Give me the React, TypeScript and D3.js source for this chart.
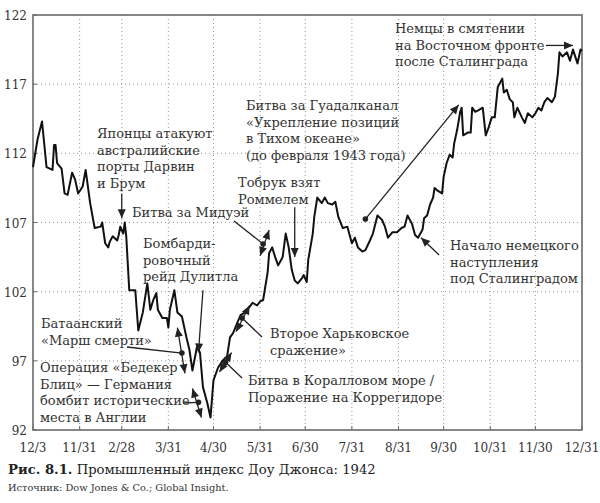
import * as d3 from "d3";
import React from "react";

// Dow Jones Industrial index, 1942
const dates = [
  "1941-12-31", "1942-01-03", "1942-01-06", "1942-01-09", "1942-01-13", "1942-01-14", "1942-01-15", "1942-01-16",
  "1942-01-19", "1942-01-21", "1942-01-23", "1942-01-26", "1942-01-28", "1942-01-30", "1942-02-02", "1942-02-04",
  "1942-02-07", "1942-02-09", "1942-02-10", "1942-02-14", "1942-02-15", "1942-02-17", "1942-02-19", "1942-02-20",
  "1942-02-22", "1942-02-25", "1942-02-26", "1942-02-27", "1942-03-01", "1942-03-02", "1942-03-03", "1942-03-05",
  "1942-03-09", "1942-03-11", "1942-03-14", "1942-03-17", "1942-03-19", "1942-03-21", "1942-03-23", "1942-03-24",
  "1942-03-27", "1942-03-30", "1942-03-31", "1942-04-01", "1942-04-04", "1942-04-06", "1942-04-09", "1942-04-12",
  "1942-04-14", "1942-04-16", "1942-04-19", "1942-04-21", "1942-04-23", "1942-04-26", "1942-04-28", "1942-04-30",
  "1942-05-03", "1942-05-06", "1942-05-09", "1942-05-11", "1942-05-13", "1942-05-16", "1942-05-18", "1942-05-21",
  "1942-05-24", "1942-05-26", "1942-05-29", "1942-05-31", "1942-06-02", "1942-06-05", "1942-06-06", "1942-06-08",
  "1942-06-10", "1942-06-12", "1942-06-15", "1942-06-17", "1942-06-19", "1942-06-21", "1942-06-23", "1942-06-25",
  "1942-06-28", "1942-06-29", "1942-07-01", "1942-07-02", "1942-07-05", "1942-07-06", "1942-07-08", "1942-07-11",
  "1942-07-13", "1942-07-15", "1942-07-18", "1942-07-20", "1942-07-22", "1942-07-25", "1942-07-28", "1942-07-31",
  "1942-08-02", "1942-08-04", "1942-08-07", "1942-08-09", "1942-08-12", "1942-08-14", "1942-08-17", "1942-08-20",
  "1942-08-22", "1942-08-24", "1942-08-27", "1942-08-30", "1942-09-02", "1942-09-04", "1942-09-06", "1942-09-09",
  "1942-09-11", "1942-09-13", "1942-09-16", "1942-09-17", "1942-09-19", "1942-09-21", "1942-09-23", "1942-09-24",
  "1942-09-26", "1942-09-29", "1942-09-30", "1942-10-02", "1942-10-04", "1942-10-06", "1942-10-07", "1942-10-09",
  "1942-10-11", "1942-10-12", "1942-10-13", "1942-10-16", "1942-10-18", "1942-10-19", "1942-10-21", "1942-10-23",
  "1942-10-26", "1942-10-28", "1942-10-30", "1942-11-01", "1942-11-03", "1942-11-05", "1942-11-08", "1942-11-09",
  "1942-11-11", "1942-11-13", "1942-11-15", "1942-11-16", "1942-11-18", "1942-11-21", "1942-11-23", "1942-11-25",
  "1942-11-28", "1942-11-30", "1942-12-02", "1942-12-04", "1942-12-06", "1942-12-08", "1942-12-11", "1942-12-13",
  "1942-12-15", "1942-12-16", "1942-12-18", "1942-12-21", "1942-12-23", "1942-12-25", "1942-12-28", "1942-12-30",
  "1942-12-31",
];

const values = [
  111.0, 113.0, 114.3, 111.0, 110.8, 112.6, 112.6, 111.3,
  110.9, 109.1, 109.0, 110.6, 110.1, 109.1, 109.6, 110.8,
  108.4, 107.2, 106.6, 106.7, 107.0, 105.5, 105.2, 105.6,
  106.0, 105.7, 106.1, 106.7, 106.2, 107.0, 106.0, 102.1,
  102.1, 99.2, 100.5, 102.6, 100.7, 101.4, 101.9, 100.7,
  100.1, 100.1, 99.4, 100.7, 102.1, 100.5, 100.2, 98.7,
  97.8, 96.3, 98.0, 97.6, 95.1, 93.9, 92.9, 95.6,
  96.5, 97.0, 97.3, 98.7, 99.0, 99.8, 100.3, 100.5,
  100.9, 101.2, 101.0, 101.3, 101.4, 103.4, 104.8, 105.2,
  104.5, 103.9, 104.5, 106.2, 105.2, 103.6, 102.8, 102.6,
  103.0, 103.2, 102.7, 104.3, 106.2, 107.4, 108.8, 108.4,
  108.8, 108.4, 108.3, 108.5, 107.4, 106.6, 106.7, 105.5,
  105.9, 105.2, 104.9, 105.0, 105.7, 106.2, 107.5, 107.2,
  106.7, 105.9, 106.3, 106.3, 106.6, 106.7, 107.5, 106.9,
  106.1, 105.9, 106.5, 107.3, 107.5, 108.3, 108.8, 109.5,
  109.3, 109.1, 110.3, 111.3, 111.9, 111.7, 112.7, 113.7,
  115.0, 115.3, 113.3, 113.5, 113.5, 115.3, 115.0, 115.1,
  115.3, 113.3, 113.9, 114.6, 114.6, 116.8, 117.4, 116.4,
  116.6, 115.9, 115.7, 114.6, 115.3, 114.6, 114.2, 114.9,
  114.6, 114.9, 115.3, 115.1, 115.7, 116.0, 115.7, 116.1,
  117.8, 119.3, 119.0, 119.3, 118.7, 119.5, 118.5, 119.5,
  119.4,
];

const tickDates = [
  "1941-12-31", "1942-01-31", "1942-02-28", "1942-03-31", "1942-04-30", "1942-05-31", "1942-06-30",
  "1942-07-31", "1942-08-31", "1942-09-30", "1942-10-31", "1942-11-30", "1942-12-31",
];
const tickLabels = ["12/3", "11/31", "2/28", "3/31", "4/30", "5/31", "6/30", "7/31", "8/31", "9/30", "10/31", "11/30", "12/31"];
const yTicks = [92, 97, 102, 107, 112, 117, 122];

const parse = d3.timeParse("%Y-%m-%d");

type Pt = [string, number];

// annotations: text lines at layout positions, arrows anchored to date/value
const notes = [
  { lines: ["Японцы атакуют", "австралийские", "порты Дарвин", "и Брум"], x: 97, y: 138 },
  { lines: ["Битва за Мидуэй"], x: 132, y: 217 },
  { lines: ["Бомбарди-", "ровочный", "рейд Дулитла"], x: 143, y: 248 },
  { lines: ["Батаанский", "«Марш смерти»"], x: 41, y: 328 },
  { lines: ["Операция «Бедекер", "Блиц» — Германия", "бомбит исторические", "места в Англии"], x: 40, y: 372 },
  { lines: ["Тобрук взят", "Роммелем"], x: 238, y: 187 },
  { lines: ["Второе Харьковское", "сражение»"], x: 270, y: 338 },
  { lines: ["Битва в Коралловом море /", "Поражение на Коррегидоре"], x: 248, y: 385 },
  { lines: ["Битва за Гуадалканал", "«Укрепление позиций", "в Тихом океане»", "(до февраля 1943 года)"], x: 246, y: 110 },
  { lines: ["Начало немецкого", "наступления", "под Сталинградом"], x: 450, y: 250 },
  { lines: ["Немцы в смятении", "на Восточном фронте", "после Сталинграда"], x: 395, y: 33 },
];

// single arrows: tail -> head
const singleArrows: { from: Pt; to: Pt }[] = [
  { from: ["1942-02-28", 109.1], to: ["1942-02-28", 107.3] },
  { from: ["1942-04-23", 102.1], to: ["1942-04-20", 97.6] },
  { from: ["1942-06-23", 108.1], to: ["1942-06-23", 104.5] },
  { from: ["1942-09-27", 104.65], to: ["1942-09-15", 105.9] },
  { from: ["1942-12-07", 119.8], to: ["1942-12-25", 119.8] },
];

// range markers: dot with arrowheads at both ends, leader from text (layout px)
const rangeArrows: { dot: Pt; a: Pt; b: Pt; leader: [number, number] }[] = [
  { dot: ["1942-06-02", 105.45], a: ["1942-06-06", 106.45], b: ["1942-05-31", 104.6], leader: [234, 221] },
  { dot: ["1942-04-09", 97.56], a: ["1942-04-06", 99.4], b: ["1942-04-11", 96.1], leader: [127, 347] },
  { dot: ["1942-04-20", 94.0], a: ["1942-04-16", 95.0], b: ["1942-04-22", 92.9], leader: [183, 403] },
  { dot: ["1942-05-08", 96.9], a: ["1942-05-12", 97.6], b: ["1942-05-04", 96.2], leader: [242, 378] },
  { dot: ["1942-05-19", 100.1], a: ["1942-05-24", 101.0], b: ["1942-05-15", 99.1], leader: [262, 337] },
];

// pointer with dot at tail
const dotArrows: { from: Pt; to: Pt }[] = [{ from: ["1942-08-09", 107.25], to: ["1942-10-10", 115.5] }];

const serif = "DejaVu Serif";

export default function App() {
  const ref = React.useRef<SVGSVGElement | null>(null);
  const width = 600;
  const height = 503;
  const margin = { top: 15, right: 18, bottom: 73, left: 33 };

  const drawElm = (node: SVGSVGElement) => {
    const svg = d3.select(node).attr("width", width).attr("height", height);
    svg.selectAll("*").remove();

    const x = d3
      .scaleTime()
      .domain([parse("1941-12-31")!, parse("1942-12-31")!])
      .range([margin.left, width - margin.right]);
    const y = d3
      .scaleLinear()
      .domain([92, 122])
      .range([height - margin.bottom, margin.top]);

    const x0 = margin.left;
    const x1 = width - margin.right;
    const y0 = height - margin.bottom;
    const y1 = margin.top;

    // grid
    const grid = svg.append("g").attr("stroke", "#9a9a9a").attr("stroke-dasharray", "1,3").attr("stroke-width", 1);
    grid
      .selectAll("line.v")
      .data(tickDates.slice(1, -1))
      .join("line")
      .attr("x1", (d) => x(parse(d)!))
      .attr("x2", (d) => x(parse(d)!))
      .attr("y1", y1)
      .attr("y2", y0);
    grid
      .selectAll("line.h")
      .data(yTicks.slice(1, -1))
      .join("line")
      .attr("x1", x0)
      .attr("x2", x1)
      .attr("y1", (d) => y(d))
      .attr("y2", (d) => y(d));

    // frame + ticks
    svg
      .append("rect")
      .attr("x", x0)
      .attr("y", y1)
      .attr("width", x1 - x0)
      .attr("height", y0 - y1)
      .attr("fill", "none")
      .attr("stroke", "#6a6a6a")
      .attr("stroke-width", 1.6);
    svg
      .append("g")
      .selectAll("line")
      .data(tickDates)
      .join("line")
      .attr("x1", (d) => x(parse(d)!))
      .attr("x2", (d) => x(parse(d)!))
      .attr("y1", y0)
      .attr("y2", y0 - 4)
      .attr("stroke", "#6a6a6a");
    svg
      .append("g")
      .selectAll("line")
      .data(yTicks)
      .join("line")
      .attr("x1", x0)
      .attr("x2", x0 + 4)
      .attr("y1", (d) => y(d))
      .attr("y2", (d) => y(d))
      .attr("stroke", "#6a6a6a");

    // tick labels
    svg
      .append("g")
      .style("font-family", serif)
      .selectAll("text")
      .data(tickDates)
      .join("text")
      .text((d, i) => tickLabels[i])
      .attr("x", (d) => x(parse(d)!))
      .attr("y", y0 + 22)
      .attr("text-anchor", "middle")
      .attr("font-size", 12)
      .attr("fill", "#333");
    svg
      .append("g")
      .style("font-family", serif)
      .selectAll("text")
      .data(yTicks)
      .join("text")
      .text((d) => d)
      .attr("x", x0 - 6)
      .attr("y", (d) => y(d) + 5)
      .attr("text-anchor", "end")
      .attr("font-size", 12)
      .attr("fill", "#333");

    // index line
    const series = dates.map((d, i) => ({ date: parse(d)!, value: values[i] }));
    const line = d3
      .line<{ date: Date; value: number }>()
      .x((d) => x(d.date))
      .y((d) => y(d.value));
    svg
      .append("path")
      .datum(series)
      .attr("d", line)
      .attr("fill", "none")
      .attr("stroke", "#111")
      .attr("stroke-width", 2)
      .attr("stroke-linejoin", "round");

    // annotations
    const P = (p: Pt): [number, number] => [x(parse(p[0])!), y(p[1])];
    const ann = svg.append("g").attr("fill", "#222").attr("stroke", "#222");
    const head = (tip: [number, number], from: [number, number]) => {
      const ang = Math.atan2(tip[1] - from[1], tip[0] - from[0]);
      const len = 9;
      const w = 4;
      const bx = tip[0] - len * Math.cos(ang);
      const by = tip[1] - len * Math.sin(ang);
      const px = -Math.sin(ang) * w;
      const py = Math.cos(ang) * w;
      ann
        .append("path")
        .attr("d", `M${tip[0]},${tip[1]}L${bx + px},${by + py}L${bx - px},${by - py}Z`)
        .attr("stroke", "none");
    };
    const seg = (a: [number, number], b: [number, number]) => {
      ann
        .append("line")
        .attr("x1", a[0])
        .attr("y1", a[1])
        .attr("x2", b[0])
        .attr("y2", b[1])
        .attr("stroke-width", 1.3);
    };
    const dot = (p: [number, number]) => {
      ann.append("circle").attr("cx", p[0]).attr("cy", p[1]).attr("r", 2.8).attr("stroke", "none");
    };

    singleArrows.forEach((a) => {
      const f = P(a.from);
      const t = P(a.to);
      seg(f, t);
      head(t, f);
    });
    rangeArrows.forEach((r) => {
      const d = P(r.dot);
      const a = P(r.a);
      const b = P(r.b);
      seg(r.leader, d);
      seg(a, b);
      head(a, b);
      head(b, a);
      dot(d);
    });
    dotArrows.forEach((a) => {
      const f = P(a.from);
      const t = P(a.to);
      seg(f, t);
      head(t, f);
      dot(f);
    });

    const txt = svg.append("g").style("font-family", serif).attr("font-size", 13).attr("fill", "#333");
    notes.forEach((n) => {
      n.lines.forEach((l, i) => {
        txt
          .append("text")
          .attr("x", n.x)
          .attr("y", n.y + i * 16.7)
          .text(l);
      });
    });

    // caption
    const cap = svg
      .append("text")
      .style("font-family", serif)
      .attr("x", 8)
      .attr("y", 474)
      .attr("font-size", 13.2)
      .attr("fill", "#222");
    cap.append("tspan").attr("font-weight", "bold").text("Рис. 8.1.");
    cap.append("tspan").text(" Промышленный индекс Доу Джонса: 1942");
    svg
      .append("text")
      .style("font-family", serif)
      .attr("x", 8)
      .attr("y", 491)
      .attr("font-size", 9.8)
      .attr("fill", "#333")
      .text("Источник: Dow Jones & Co.; Global Insight.");
  };

  React.useEffect(() => {
    if (ref.current) drawElm(ref.current);
  });

  return (
    <div style={{ position: "absolute", left: 0, top: 0 }}>
      <svg ref={ref} width={width} height={height} style={{ display: "block", background: "#fff" }}></svg>
    </div>
  );
}
